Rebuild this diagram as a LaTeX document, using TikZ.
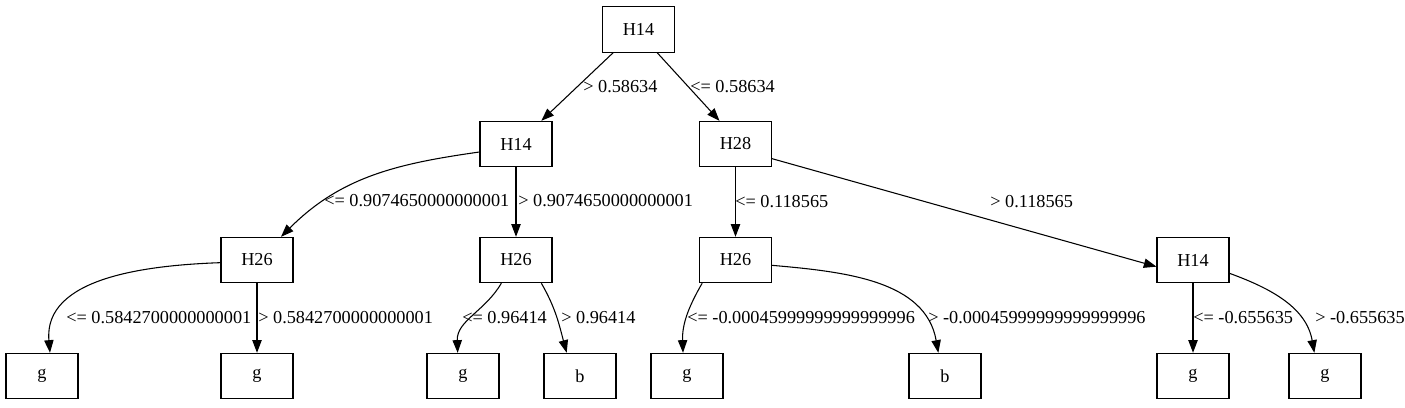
\documentclass[tikz,border=0pt]{standalone}
\usepackage{fontspec}
\setmainfont{Liberation Serif}
\usetikzlibrary{arrows.meta}
\begin{document}
\begin{tikzpicture}[x=0.75pt,y=-0.75pt,
  box/.style={draw,line width=0.8pt,minimum width=54pt,minimum height=34pt,inner sep=0pt,font=\fontsize{13.7}{16}\selectfont},
  lab/.style={anchor=west,inner sep=0pt,font=\fontsize{13.7}{16}\selectfont},
  arr/.style={line width=0.8pt,-{Triangle[length=9.5pt,width=7pt]}}]
\useasboundingbox (0,0) rectangle (1405,407);
% nodes
\node[box] (r) at (638.5,29.5) {H14};
\node[box] (a) at (516,144) {H14};
\node[box] (b) at (735.5,144) {H28};
\node[box] (c) at (257,260) {H26};
\node[box] (d) at (516,260) {H26};
\node[box] (e) at (735.5,260) {H26};
\node[box] (f) at (1193,260) {H14};
\node[box] (l1) at (42,376) {g};
\node[box] (l2) at (257,376) {g};
\node[box] (l3) at (463,376) {g};
\node[box] (l4) at (580,376) {b};
\node[box] (l5) at (687,376) {g};
\node[box] (l6) at (945,376) {b};
\node[box] (l7) at (1193,376) {g};
\node[box] (l8) at (1325,376) {g};
% edges
\draw[arr] ([xshift=-19]r.south) -- ([xshift=19]a.north);
\draw[arr] ([xshift=14]r.south) -- ([xshift=-12]b.north);
\draw[arr] ([yshift=-6]a.west) to[out=188,in=45] ([xshift=18]c.north);
\draw[arr] (a) -- (d);
\draw[arr] (b) -- (e);
\draw[arr] ([yshift=-11]b.east) -- ([yshift=-5]f.west);
\draw[arr] ([yshift=-2]c.west) to[out=182,in=95] ([xshift=6]l1.north);
\draw[arr] (c) -- (l2);
\draw[arr] ([xshift=-11]d.south) to[out=240,in=92] ([xshift=-4]l3.north);
\draw[arr] ([xshift=19]d.south) to[out=-60,in=105] ([xshift=-10]l4.north);
\draw[arr] ([xshift=-25]e.south) to[out=240,in=92] ([xshift=-3]l5.north);
\draw[arr] ([yshift=-4]e.east) to[out=-5,in=100] ([xshift=-5]l6.north);
\draw[arr] (f) -- (l7);
\draw[arr] ([yshift=-10]f.east) to[out=-20,in=100] ([xshift=-8]l8.north);
% labels
\node[lab] (t1) at (583,87) {> 0.58634};
\node[lab] (t2) at (690,87) {<= 0.58634};
\node[lab] (t3) at (324,201) {<= 0.9074650000000001};
\node[lab] (t4) at (518,201) {> 0.9074650000000001};
\node[lab] (t5) at (735,202) {<= 0.118565};
\node[lab] (t6) at (990,202) {> 0.118565};
\node[lab] (t7) at (66,318) {<= 0.5842700000000001};
\node[lab] (t8) at (258,318) {> 0.5842700000000001};
\node[lab] (t9) at (462,318) {<= 0.96414};
\node[lab] (t10) at (561,318) {> 0.96414};
\node[lab] (t11) at (687,318) {<= -0.00045999999999999996};
\node[lab] (t12) at (928,318) {> -0.00045999999999999996};
\node[lab] (t13) at (1193,318) {<= -0.655635};
\node[lab] (t14) at (1315,318) {> -0.655635};
\end{tikzpicture}
\end{document}
